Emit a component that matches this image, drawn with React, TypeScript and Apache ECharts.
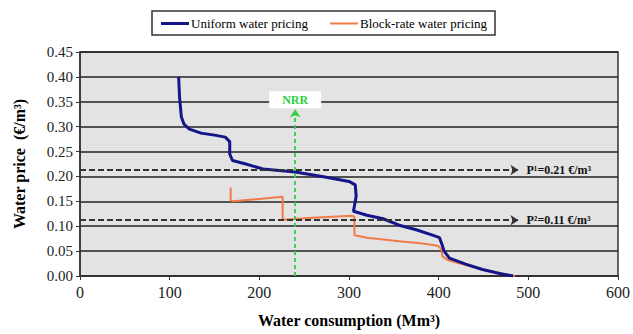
import React, { useEffect, useRef } from "react";
import * as echarts from "echarts";

const uniformPricing: [number, number][] = [
  [110, 0.4], [111, 0.36], [113, 0.32], [116, 0.305], [122, 0.295], [135, 0.287],
  [150, 0.283], [162, 0.279], [167, 0.27], [167, 0.245], [170, 0.232], [185, 0.225],
  [204, 0.215], [240, 0.209], [270, 0.2], [300, 0.19], [307, 0.183], [308, 0.16],
  [305, 0.13], [320, 0.122], [338, 0.115], [356, 0.102], [375, 0.093], [393, 0.082],
  [401, 0.077], [404, 0.062], [406, 0.05], [412, 0.036], [430, 0.024], [449, 0.013],
  [468, 0.005], [483, 0],
];

const blockRatePricing: [number, number][] = [
  [168, 0.178], [168, 0.152], [171, 0.15], [226, 0.159], [226, 0.113], [260, 0.117],
  [303, 0.121], [306, 0.119], [306, 0.082], [320, 0.077], [356, 0.07], [380, 0.066],
  [399, 0.061], [403, 0.054], [404, 0.04], [410, 0.032], [430, 0.022], [450, 0.012],
  [470, 0.005], [485, 0],
];

const priceLevels = [0.213, 0.112];
const priceLabels = ["P¹=0.21 €/m³", "P²=0.11 €/m³"];
const nrrX = 240;
const nrrTop = 0.335;
const arrowEndX = 489;

const serif = "Liberation Serif";

export default function App() {
  const ref = useRef<HTMLDivElement>(null);
  useEffect(() => {
    document.body.style.margin = "0";
    const chart = echarts.init(ref.current!, null, { renderer: "svg" });
    chart.setOption({
      animation: false,
      textStyle: { fontFamily: serif, color: "#000" },
      legend: {
        data: [
          { name: "Uniform water pricing", icon: "rect" },
          { name: "Block-rate water pricing", icon: "path://M0,0H28V2H0Z" },
        ],
        left: 152,
        top: 11,
        padding: [6, 8, 5, 9],
        itemGap: 22,
        itemWidth: 28,
        itemHeight: 3,
        borderColor: "#333",
        borderWidth: 1.5,
        backgroundColor: "#fff",
        textStyle: { fontFamily: serif, fontSize: 13, color: "#000", padding: [0, 0, 0, -3] },
      },
      grid: {
        left: 80,
        right: 15,
        top: 52,
        bottom: 58,
        show: true,
        backgroundColor: "#e3e3e3",
        borderColor: "#333",
        borderWidth: 1.5,
      },
      xAxis: {
        type: "value",
        min: 0,
        max: 600,
        interval: 100,
        name: "Water consumption (Mm³)",
        nameLocation: "middle",
        nameGap: 36,
        nameTextStyle: { fontFamily: serif, fontSize: 16, fontWeight: "bold", color: "#000" },
        axisLine: { show: true, lineStyle: { color: "#333", width: 1.5 } },
        axisTick: { show: true, inside: false, length: 4, lineStyle: { color: "#333" } },
        axisLabel: { fontFamily: serif, fontSize: 16, color: "#222", margin: 8 },
        splitLine: { show: false },
      },
      yAxis: {
        type: "value",
        min: 0,
        max: 0.45,
        interval: 0.05,
        name: "Water price  (€/m³)",
        nameLocation: "middle",
        nameGap: 53,
        nameRotate: 90,
        nameTextStyle: { fontFamily: serif, fontSize: 16, fontWeight: "bold", color: "#000" },
        axisLine: { show: true, lineStyle: { color: "#333", width: 1.5 } },
        axisTick: { show: true, inside: false, length: 4, lineStyle: { color: "#333" } },
        axisLabel: {
          fontFamily: serif,
          fontSize: 15,
          color: "#222",
          margin: 7,
          formatter: (v: number) => v.toFixed(2),
        },
        splitLine: { show: true, lineStyle: { color: "#222", width: 1.5 } },
      },
      series: [
        {
          name: "annotations",
          type: "line",
          data: [],
          z: 1,
          silent: true,
          markLine: {
            silent: true,
            animation: false,
            symbol: ["none", "arrow"],
            symbolSize: 8,
            data: [
              ...priceLevels.map((p, i) => [
                {
                  coord: [0, p],
                  lineStyle: { color: "#333", type: [6, 3], width: 1.8 },
                  itemStyle: { color: "#333" },
                  label: {
                    show: true,
                    position: "end",
                    formatter: priceLabels[i],
                    distance: 8,
                    fontFamily: serif,
                    fontSize: 12,
                    fontWeight: "bold",
                    color: "#111",
                  },
                },
                { coord: [arrowEndX, p] },
              ]),
              [
                {
                  coord: [nrrX, 0],
                  lineStyle: { color: "#2ed040", type: [4, 3], width: 1.8 },
                  itemStyle: { color: "#2ed040" },
                  label: {
                    show: true,
                    position: "end",
                    formatter: "NRR",
                    distance: 1,
                    fontFamily: serif,
                    fontSize: 12,
                    fontWeight: "bold",
                    color: "#2ed040",
                    backgroundColor: "#fff",
                    padding: [3, 13, 2, 13],
                  },
                },
                { coord: [nrrX, nrrTop] },
              ],
            ],
          },
        },
        {
          name: "Block-rate water pricing",
          type: "line",
          data: blockRatePricing,
          symbol: "none",
          z: 3,
          lineStyle: { color: "#f07a48", width: 2 },
          itemStyle: { color: "#f07a48" },
        },
        {
          name: "Uniform water pricing",
          type: "line",
          data: uniformPricing,
          symbol: "none",
          z: 4,
          lineStyle: { color: "#15158a", width: 3 },
          itemStyle: { color: "#15158a" },
        },
      ],
    });
    return () => chart.dispose();
  }, []);
  return <div ref={ref} style={{ width: 633, height: 334 }} />;
}
